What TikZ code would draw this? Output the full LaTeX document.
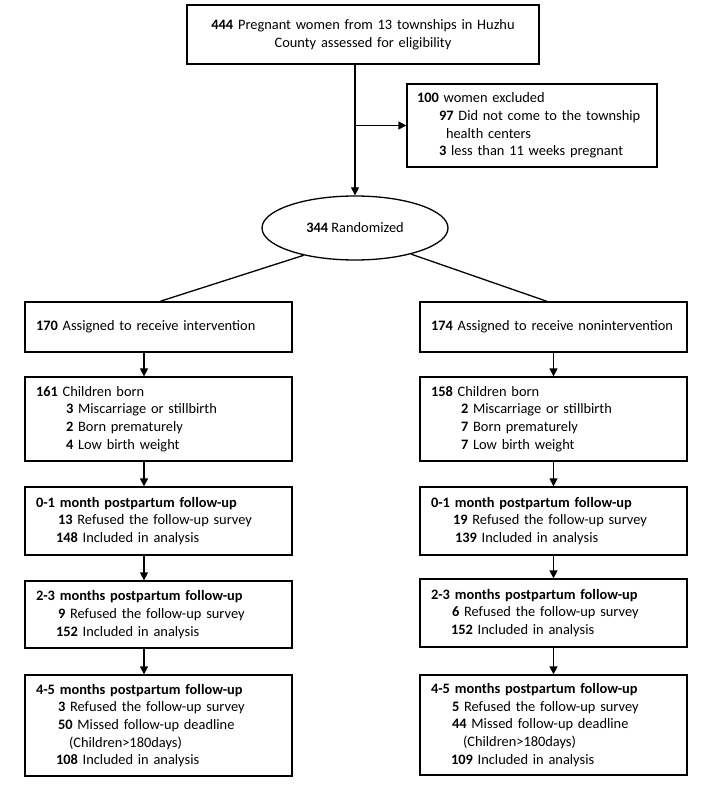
\documentclass[tikz,border=0pt]{standalone}
\usepackage{fontspec}
\setmainfont{Carlito}
\usetikzlibrary{arrows.meta,shapes.geometric}
\newcommand{\boxfont}{\fontsize{14.4}{17.7}\selectfont\hyphenpenalty=10000\relax}
\tikzset{
  box/.style={draw, line width=1.3pt, rectangle, inner xsep=11pt, inner ysep=0pt,
    text width=245pt, align=left, font=\boxfont},
  arr/.style={line width=1.3pt, -{Triangle[width=8pt,length=8pt]}},
  conn/.style={line width=1.3pt},
}
\newcommand{\ind}[1]{\hspace*{#1pt}}
\begin{document}
\begin{tikzpicture}[x=1pt,y=-1pt]
\useasboundingbox (0,0) rectangle (712,799);
\node[box, align=center, text width=330pt, minimum height=59pt] (top) at (363,34.5)
  {\textbf{444} Pregnant women from 13 townships in Huzhu\\ County assessed for eligibility};
\node[box, inner xsep=10pt, text width=230pt, minimum height=83pt] (excl) at (532,125.5)
  {\textbf{100} women excluded\\
   \ind{22}\textbf{97} Did not come to the township\\
   \ind{29}health centers\\
   \ind{22}\textbf{3} less than 11 weeks pregnant};
\node[draw, ellipse, line width=1.3pt, minimum width=186pt, minimum height=64pt, inner sep=0pt,
  font=\boxfont] (ell) at (355,228) {\textbf{344} Randomized};

% left column
\node[box, minimum height=50pt] (L1) at (158.5,327) {\mbox{\textbf{170} Assigned to receive intervention}};
\node[box, minimum height=84pt] (L2) at (158.5,419)
  {\textbf{161} Children born\\
   \ind{30}\textbf{3} Miscarriage or stillbirth\\
   \ind{30}\textbf{2} Born prematurely\\
   \ind{30}\textbf{4} Low birth weight};
\node[box, minimum height=68pt] (L3) at (158.5,521)
  {\textbf{0-1 month postpartum follow-up}\\
   \ind{22}\textbf{13} Refused the follow-up survey\\
   \ind{20}\textbf{148} Included in analysis};
\node[box, minimum height=67pt] (L4) at (158.5,614.5)
  {\textbf{2-3 months postpartum follow-up}\\
   \ind{22}\textbf{9} Refused the follow-up survey\\
   \ind{20}\textbf{152} Included in analysis};
\node[box, minimum height=101pt] (L5) at (158.5,725.5)
  {\textbf{4-5 months postpartum follow-up}\\
   \ind{22}\textbf{3} Refused the follow-up survey\\
   \ind{22}\textbf{50} Missed follow-up deadline\\
   \ind{33}(Children>180days)\\
   \ind{20}\textbf{108} Included in analysis};

% right column
\node[box, minimum height=50pt] (R1) at (553.5,327) {\mbox{\textbf{174} Assigned to receive nonintervention}};
\node[box, minimum height=84pt] (R2) at (553.5,419)
  {\textbf{158} Children born\\
   \ind{30}\textbf{2} Miscarriage or stillbirth\\
   \ind{30}\textbf{7} Born prematurely\\
   \ind{30}\textbf{7} Low birth weight};
\node[box, minimum height=68pt] (R3) at (553.5,521)
  {\textbf{0-1 month postpartum follow-up}\\
   \ind{22}\textbf{19} Refused the follow-up survey\\
   \ind{24}\textbf{139} Included in analysis};
\node[box, minimum height=68pt] (R4) at (553.5,613)
  {\textbf{2-3 months postpartum follow-up}\\
   \ind{21}\textbf{6} Refused the follow-up survey\\
   \ind{20}\textbf{152} Included in analysis};
\node[box, minimum height=100pt] (R5) at (553.5,725)
  {\textbf{4-5 months postpartum follow-up}\\
   \ind{21}\textbf{5} Refused the follow-up survey\\
   \ind{21}\textbf{44} Missed follow-up deadline\\
   \ind{32}(Children>180days)\\
   \ind{20}\textbf{109} Included in analysis};

% connectors
\draw[arr] (top.south -| ell.north) -- (ell.north);
\coordinate (br) at (ell.north |- excl.west);
\draw[arr] (br) -- (excl.west);
\draw[conn] (ell.208) -- ([xshift=1.5pt]L1.north);
\draw[conn] (ell.335) -- ([xshift=-6.5pt]R1.north);
\draw[arr] ([xshift=-14.5pt]L1.south) -- ([xshift=-14.5pt]L2.north);
\draw[arr] ([xshift=-14.5pt]L2.south) -- ([xshift=-14.5pt]L3.north);
\draw[arr] ([xshift=-14.5pt]L3.south) -- ([xshift=-14.5pt]L4.north);
\draw[arr] ([xshift=-14.5pt]L4.south) -- ([xshift=-14.5pt]L5.north);
\draw[arr] (R1.south) -- (R2.north);
\draw[arr] (R2.south) -- (R3.north);
\draw[arr] (R3.south) -- (R4.north);
\draw[arr] (R4.south) -- (R5.north);
\end{tikzpicture}
\end{document}
